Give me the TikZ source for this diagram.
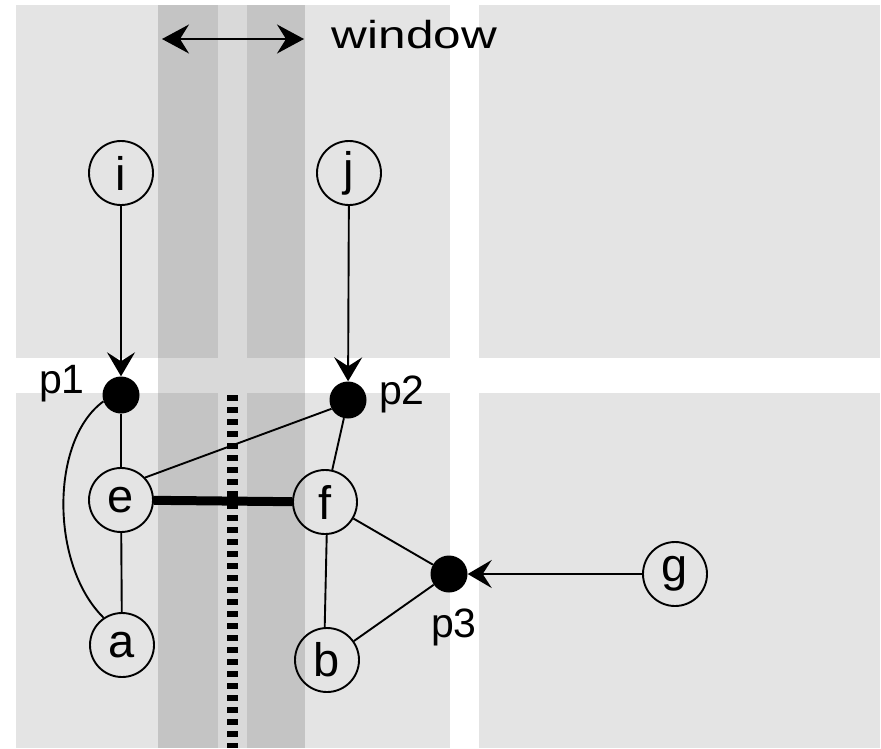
\documentclass[tikz,border=0pt]{standalone}
\usepackage{fontspec}
\setmainfont{Liberation Sans}
\usetikzlibrary{arrows.meta}
\definecolor{blockgray}{HTML}{E4E4E4}
\definecolor{bandgray}{HTML}{C4C4C4}
\definecolor{stripgray}{HTML}{D9D9D9}
\begin{document}
\begin{tikzpicture}[x=1pt,y=-1pt,
  vertex/.style={circle,draw,line width=1.9pt,minimum size=64pt,inner sep=0pt,
    font=\fontsize{47}{47}\selectfont},
  port/.style={circle,fill=black,minimum size=37pt,inner sep=0pt},
  lbl/.style={font=\fontsize{41}{42}\selectfont,anchor=base,inner sep=0pt},
  edge/.style={line width=1.9pt},
  arr/.style={line width=1.9pt,-{Stealth[length=24pt,width=28pt,inset=9pt]}},
  cut/.style={line width=11pt,dash pattern=on 6pt off 6pt},
]
\useasboundingbox (0,0) rectangle (881,748);

% processor blocks
\fill[blockgray] (16,5) rectangle (450,358);
\fill[blockgray] (479,5) rectangle (880,358);
\fill[blockgray] (16,393) rectangle (450,748);
\fill[blockgray] (479,393) rectangle (880,748);

% overlap window
\fill[stripgray] (158,5) rectangle (305,748);
\fill[bandgray] (158,5) rectangle (218,358);
\fill[bandgray] (247,5) rectangle (305,358);
\fill[bandgray] (158,393) rectangle (218,748);
\fill[bandgray] (247,393) rectangle (305,748);

% window marker
\coordinate (wl) at (162,39);
\coordinate (wr) at (304,39);
\draw[line width=1.9pt,{Stealth[length=27pt,width=29pt,inset=9pt]}-{Stealth[length=27pt,width=29pt,inset=9pt]}] (wl) -- (wr);
\node[lbl,font=\fontsize{39}{40}\selectfont] (wlabel) at (414.5,48) {\scalebox{1.27}[1]{window}};

% vertices
\node[vertex] (i) at (121,173) {i};
\node[vertex] (j) at (349,173) {j};
\node[vertex] (e) at (121,500) {e};
\node[vertex] (f) at (325,502) {f};
\node[vertex] (a) at (122,645) {a};
\node[vertex] (b) at (327,660) {b};
\node[vertex] (g) at (675,574) {g};

% ports
\node[port] (p1) at (121,395) {};
\node[port] (p2) at (348,400) {};
\node[port] (p3) at (449,574) {};
\node[lbl] (p1l) at (62,393) {p1};
\node[lbl] (p2l) at (402,404) {p2};
\node[lbl] (p3l) at (454,637) {p3};

% edges
\draw[arr] (i) -- (p1);
\draw[arr] (j) -- (p2);
\draw[arr] (g) -- (p3);
\draw[edge] (p1) -- (e);
\draw[edge] (e) -- (a);
\draw[edge] (p1.200) .. controls (50,440) and (50,565) .. (a.124);
\draw[edge] (e.43) -- (p2.208);
\draw[edge] (p2) -- (f);
\draw[edge] (f.-87) -- (b.94);
\draw[edge] (f) -- (p3);
\draw[edge] (b) -- (p3);
\draw[line width=9pt] (e) -- (f);

% partition cut
\coordinate (ctop) at (232,395);
\coordinate (cbot) at (232,748);
\draw[cut] (ctop) -- (cbot);
\end{tikzpicture}
\end{document}
